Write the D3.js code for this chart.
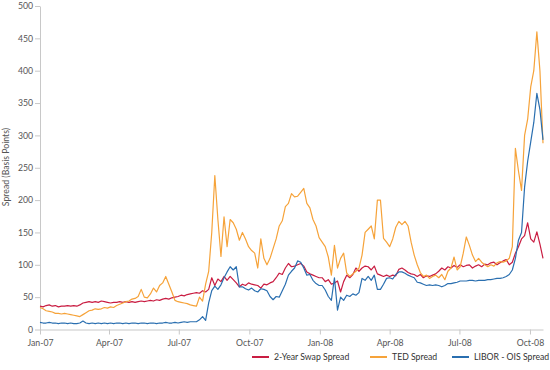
<!DOCTYPE html>
<html><head><meta charset="utf-8">
<script src="https://cdn.jsdelivr.net/npm/d3@7"></script>
<style>body{margin:0;background:#fff;} text{font-family:Lato,"Open Sans",sans-serif;}</style>
</head><body><svg id="c" width="550" height="370"></svg>
<script>
// sampling grid: every 4 days from 2007-01-01
const startDate = "2007-01-01";
const stepDays = 4;
const seriesNames = ["2-Year Swap Spread", "TED Spread", "LIBOR - OIS Spread"];
const seriesColors = ["#c91d42", "#f6a33a", "#2a6fb0"];
const swapSpread = [36,35,37,38,36,37,35,36,36,37,36,37,36,38,41,42,43,42,43,42,44,43,42,41,42,42,43,42,43,42,43,42,43,44,43,44,45,44,46,45,47,48,47,49,50,51,53,52,54,55,56,57,56,60,58,62,80,68,78,74,82,76,82,77,72,66,70,68,72,70,69,68,64,70,69,72,74,80,87,85,95,102,97,98,100,102,98,89,86,84,82,80,80,74,77,70,72,75,58,74,84,80,85,95,90,95,98,97,92,98,86,84,82,84,82,84,83,93,95,92,88,86,85,82,85,80,83,82,84,86,90,95,92,97,95,99,96,100,97,99,100,95,98,100,97,101,100,103,104,100,103,106,108,100,104,118,128,140,145,165,140,135,151,132,110];
const tedSpread = [34,32,29,28,27,25,25,24,25,24,23,22,21,20,23,26,29,30,32,31,32,34,33,35,34,37,39,41,43,44,47,48,51,62,50,49,55,64,58,68,72,82,70,58,45,43,42,41,40,38,37,36,50,44,70,90,150,238,170,113,174,128,170,165,155,138,150,140,128,122,118,95,140,110,100,110,125,140,160,168,190,195,210,205,206,212,218,195,188,170,160,142,135,128,112,84,130,95,110,118,87,82,86,90,95,115,150,155,160,140,200,200,141,135,128,140,158,167,162,167,160,135,115,100,88,82,84,79,82,84,80,85,77,90,95,112,92,97,118,143,130,115,105,110,104,100,97,100,98,103,105,104,106,110,128,280,245,215,300,325,375,400,460,400,288];
const liborOis = [11,10,10,11,10,10,9,10,10,9,10,9,9,10,13,10,9,10,9,10,9,10,9,10,9,10,10,9,10,9,10,10,9,10,10,9,10,10,9,10,10,11,10,10,11,10,11,12,11,12,12,12,15,20,14,41,60,67,62,69,80,89,97,92,97,66,66,63,61,64,60,58,63,62,60,51,46,51,50,60,70,84,90,95,106,104,95,84,85,76,71,68,68,61,51,45,80,30,50,45,53,51,55,53,57,79,76,82,76,84,62,62,70,79,80,78,85,89,89,87,84,82,80,73,72,70,68,69,68,69,68,66,68,71,71,72,73,75,75,75,76,76,75,76,76,76,77,77,78,79,79,80,82,85,92,110,138,150,220,260,290,320,365,340,293];
const xTickLabels = ["Jan-07","Apr-07","Jul-07","Oct-07","Jan-08","Apr-08","Jul-08","Oct-08"];
const xTickDates = ["2007-01-01","2007-04-01","2007-07-01","2007-10-01","2008-01-01","2008-04-01","2008-07-01","2008-10-01"];
const yTicks = [0,50,100,150,200,250,300,350,400,450,500];
const xDomain = ["2007-01-01","2008-10-18"];
const yTitle = "Spread (Basis Points)";

const parse = d3.timeParse("%Y-%m-%d");
const start = parse(startDate);
const svg = d3.select("#c");
const x = d3.scaleTime().domain(xDomain.map(parse)).range([40, 543]);
const y = d3.scaleLinear().domain([0, 500]).range([329.5, 6]);
const axisColor = "#c8c8c8", textColor = "#555";
const font = "Lato,'Open Sans',sans-serif";
const fs = "8.7px";

const xAxis = svg.append("g").attr("transform","translate(0,329.5)")
  .call(d3.axisBottom(x).tickValues(xTickDates.map(parse)).tickFormat((d,i)=>xTickLabels[i]).tickSize(5).tickSizeOuter(0));
const yAxis = svg.append("g").attr("transform","translate(40,0)")
  .call(d3.axisLeft(y).tickValues(yTicks).tickSize(5).tickSizeOuter(0));
[xAxis, yAxis].forEach(g=>{
  g.selectAll("path,line").attr("stroke", axisColor);
  g.selectAll("text").attr("fill", textColor).style("font-size",fs).style("font-family",font);
});
xAxis.selectAll("text").attr("dy","1em");
yAxis.selectAll("text").attr("x",-7);

svg.append("text").attr("transform","translate(9,167) rotate(-90)")
  .attr("text-anchor","middle").attr("fill",textColor).style("font-size",fs).style("font-family",font).text(yTitle);

const all = [swapSpread, tedSpread, liborOis];
const line = d3.line().x((d,i)=>x(d3.timeDay.offset(start, i*stepDays))).y(d=>y(d));
all.forEach((s,k)=>{
  svg.append("path").datum(s).attr("fill","none").attr("stroke",seriesColors[k])
    .attr("stroke-width",1.2).attr("stroke-linejoin","round").attr("d",line);
});

// legend
const legendTextX = [274, 392, 474];
const lg = svg.append("g").attr("transform","translate(0,357)");
seriesNames.forEach((n,k)=>{
  lg.append("line").attr("x1",legendTextX[k]-22).attr("x2",legendTextX[k]-5).attr("y1",0).attr("y2",0)
    .attr("stroke",seriesColors[k]).attr("stroke-width",2);
  lg.append("text").attr("x",legendTextX[k]).attr("y",3.2).attr("fill","#333")
    .style("font-size",fs).style("font-family",font).text(n);
});
</script></body></html>
